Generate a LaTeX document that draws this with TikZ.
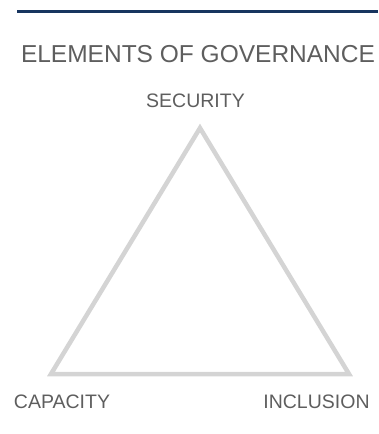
\documentclass[tikz,border=0pt]{standalone}
\usepackage{fontspec}
\setmainfont{Liberation Sans}
\definecolor{navy}{HTML}{17355F}
\definecolor{textgray}{HTML}{5E5E5E}
\definecolor{edgegray}{HTML}{D4D4D4}
\begin{document}
\begin{tikzpicture}[x=1pt,y=-1pt,
  element/.style={anchor=base, inner sep=0pt, text=textgray, font=\fontsize{19.5}{22}\selectfont}]
  \useasboundingbox (0,0) rectangle (378,434);

  % rule and title
  \coordinate (ruleL) at (17,11);
  \coordinate (ruleR) at (378,11);
  \draw[navy, line width=3pt] (ruleL) -- (ruleR);
  \node[anchor=base, inner sep=0pt, text=textgray, font=\fontsize{24.5}{28}\selectfont] (title) at(198,62){ELEMENTS OF GOVERNANCE};

  % triangle
  \coordinate (top) at (200,128);
  \coordinate (left) at (51,374);
  \coordinate (right) at (349,374);
  \draw[edgegray, line width=4.5pt, line join=miter] (top) -- (left) -- (right) -- cycle;

  % labels
  \node[element] (security) at(195.5,107){SECURITY};
  \node[element] (capacity) at(62,408){CAPACITY};
  \node[element] (inclusion) at(316.5,408){INCLUSION};
\end{tikzpicture}
\end{document}
